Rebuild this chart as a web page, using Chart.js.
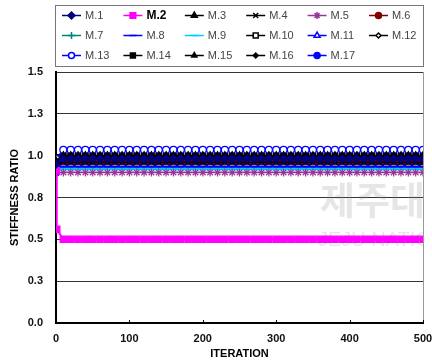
<!DOCTYPE html>
<html><head><meta charset="utf-8">
<script src="https://cdn.jsdelivr.net/npm/chart.js@4"></script>
<style>html,body{margin:0;padding:0;background:#fff}#wrap{width:432px;height:363px}</style>
</head><body><div id="wrap"><canvas id="c" width="432" height="363"></canvas></div>
<script>
const iterations = [0,1,10,20,30,40,50,60,70,80,90,100,110,120,130,140,150,160,170,180,190,200,210,220,230,240,250,260,270,280,290,300,310,320,330,340,350,360,370,380,390,400,410,420,430,440,450,460,470,480,490,500];
const seriesNames = ["M.1","M.2","M.3","M.4","M.5","M.6","M.7","M.8","M.9","M.10","M.11","M.12","M.13","M.14","M.15","M.16","M.17"];
const m1 = [0.95,null,
0.98,0.98,0.98,0.98,0.98,0.98,0.98,0.98,0.98,0.98,
0.98,0.98,0.98,0.98,0.98,0.98,0.98,0.98,0.98,0.98,
0.98,0.98,0.98,0.98,0.98,0.98,0.98,0.98,0.98,0.98,
0.98,0.98,0.98,0.98,0.98,0.98,0.98,0.98,0.98,0.98,
0.98,0.98,0.98,0.98,0.98,0.98,0.98,0.98,0.98,0.98];
const m2 = [0.91,0.56,
0.50,0.50,0.50,0.50,0.50,0.50,0.50,0.50,0.50,0.50,
0.50,0.50,0.50,0.50,0.50,0.50,0.50,0.50,0.50,0.50,
0.50,0.50,0.50,0.50,0.50,0.50,0.50,0.50,0.50,0.50,
0.50,0.50,0.50,0.50,0.50,0.50,0.50,0.50,0.50,0.50,
0.50,0.50,0.50,0.50,0.50,0.50,0.50,0.50,0.50,0.50];
const m3 = [0.97,null,
1.00,1.00,1.00,1.00,1.00,1.00,1.00,1.00,1.00,1.00,
1.00,1.00,1.00,1.00,1.00,1.00,1.00,1.00,1.00,1.00,
1.00,1.00,1.00,1.00,1.00,1.00,1.00,1.00,1.00,1.00,
1.00,1.00,1.00,1.00,1.00,1.00,1.00,1.00,1.00,1.00,
1.00,1.00,1.00,1.00,1.00,1.00,1.00,1.00,1.00,1.00];
const m4 = [0.96,null,
0.96,0.96,0.96,0.96,0.96,0.96,0.96,0.96,0.96,0.96,
0.96,0.96,0.96,0.96,0.96,0.96,0.96,0.96,0.96,0.96,
0.96,0.96,0.96,0.96,0.96,0.96,0.96,0.96,0.96,0.96,
0.96,0.96,0.96,0.96,0.96,0.96,0.96,0.96,0.96,0.96,
0.96,0.96,0.96,0.96,0.96,0.96,0.96,0.96,0.96,0.96];
const m5 = [0.90,null,
0.90,0.90,0.90,0.90,0.90,0.90,0.90,0.90,0.90,0.90,
0.90,0.90,0.90,0.90,0.90,0.90,0.90,0.90,0.90,0.90,
0.90,0.90,0.90,0.90,0.90,0.90,0.90,0.90,0.90,0.90,
0.90,0.90,0.90,0.90,0.90,0.90,0.90,0.90,0.90,0.90,
0.90,0.90,0.90,0.90,0.90,0.90,0.90,0.90,0.90,0.90];
const m6 = [0.96,null,
0.97,0.97,0.97,0.97,0.97,0.97,0.97,0.97,0.97,0.97,
0.97,0.97,0.97,0.97,0.97,0.97,0.97,0.97,0.97,0.97,
0.97,0.97,0.97,0.97,0.97,0.97,0.97,0.97,0.97,0.97,
0.97,0.97,0.97,0.97,0.97,0.97,0.97,0.97,0.97,0.97,
0.97,0.97,0.97,0.97,0.97,0.97,0.97,0.97,0.97,0.97];
const m7 = [0.96,null,
0.965,0.965,0.965,0.965,0.965,0.965,0.965,0.965,0.965,0.965,
0.965,0.965,0.965,0.965,0.965,0.965,0.965,0.965,0.965,0.965,
0.965,0.965,0.965,0.965,0.965,0.965,0.965,0.965,0.965,0.965,
0.965,0.965,0.965,0.965,0.965,0.965,0.965,0.965,0.965,0.965,
0.965,0.965,0.965,0.965,0.965,0.965,0.965,0.965,0.965,0.965];
const m8 = [0.94,null,
0.98,0.98,0.98,0.98,0.98,0.98,0.98,0.98,0.98,0.98,
0.98,0.98,0.98,0.98,0.98,0.98,0.98,0.98,0.98,0.98,
0.98,0.98,0.98,0.98,0.98,0.98,0.98,0.98,0.98,0.98,
0.98,0.98,0.98,0.98,0.98,0.98,0.98,0.98,0.98,0.98,
0.98,0.98,0.98,0.98,0.98,0.98,0.98,0.98,0.98,0.98];
const m9 = [0.91,null,
0.92,0.92,0.92,0.92,0.92,0.92,0.92,0.92,0.92,0.92,
0.92,0.92,0.92,0.92,0.92,0.92,0.92,0.92,0.92,0.92,
0.92,0.92,0.92,0.92,0.92,0.92,0.92,0.92,0.92,0.92,
0.92,0.92,0.92,0.92,0.92,0.92,0.92,0.92,0.92,0.92,
0.92,0.92,0.92,0.92,0.92,0.92,0.92,0.92,0.92,0.92];
const m10 = [0.95,null,
0.965,0.965,0.965,0.965,0.965,0.965,0.965,0.965,0.965,0.965,
0.965,0.965,0.965,0.965,0.965,0.965,0.965,0.965,0.965,0.965,
0.965,0.965,0.965,0.965,0.965,0.965,0.965,0.965,0.965,0.965,
0.965,0.965,0.965,0.965,0.965,0.965,0.965,0.965,0.965,0.965,
0.965,0.965,0.965,0.965,0.965,0.965,0.965,0.965,0.965,0.965];
const m11 = [0.93,null,
0.95,0.95,0.95,0.95,0.95,0.95,0.95,0.95,0.95,0.95,
0.95,0.95,0.95,0.95,0.95,0.95,0.95,0.95,0.95,0.95,
0.95,0.95,0.95,0.95,0.95,0.95,0.95,0.95,0.95,0.95,
0.95,0.95,0.95,0.95,0.95,0.95,0.95,0.95,0.95,0.95,
0.95,0.95,0.95,0.95,0.95,0.95,0.95,0.95,0.95,0.95];
const m12 = [0.95,null,
0.962,0.962,0.962,0.962,0.962,0.962,0.962,0.962,0.962,0.962,
0.962,0.962,0.962,0.962,0.962,0.962,0.962,0.962,0.962,0.962,
0.962,0.962,0.962,0.962,0.962,0.962,0.962,0.962,0.962,0.962,
0.962,0.962,0.962,0.962,0.962,0.962,0.962,0.962,0.962,0.962,
0.962,0.962,0.962,0.962,0.962,0.962,0.962,0.962,0.962,0.962];
const m13 = [0.98,null,
1.035,1.035,1.035,1.035,1.035,1.035,1.035,1.035,1.035,1.035,
1.035,1.035,1.035,1.035,1.035,1.035,1.035,1.035,1.035,1.035,
1.035,1.035,1.035,1.035,1.035,1.035,1.035,1.035,1.035,1.035,
1.035,1.035,1.035,1.035,1.035,1.035,1.035,1.035,1.035,1.035,
1.035,1.035,1.035,1.035,1.035,1.035,1.035,1.035,1.035,1.035];
const m14 = [0.99,null,
1.00,1.00,1.00,1.00,1.00,1.00,1.00,1.00,1.00,1.00,
1.00,1.00,1.00,1.00,1.00,1.00,1.00,1.00,1.00,1.00,
1.00,1.00,1.00,1.00,1.00,1.00,1.00,1.00,1.00,1.00,
1.00,1.00,1.00,1.00,1.00,1.00,1.00,1.00,1.00,1.00,
1.00,1.00,1.00,1.00,1.00,1.00,1.00,1.00,1.00,1.00];
const m15 = [0.97,null,
1.00,1.00,1.00,1.00,1.00,1.00,1.00,1.00,1.00,1.00,
1.00,1.00,1.00,1.00,1.00,1.00,1.00,1.00,1.00,1.00,
1.00,1.00,1.00,1.00,1.00,1.00,1.00,1.00,1.00,1.00,
1.00,1.00,1.00,1.00,1.00,1.00,1.00,1.00,1.00,1.00,
1.00,1.00,1.00,1.00,1.00,1.00,1.00,1.00,1.00,1.00];
const m16 = [0.98,null,
1.00,1.00,1.00,1.00,1.00,1.00,1.00,1.00,1.00,1.00,
1.00,1.00,1.00,1.00,1.00,1.00,1.00,1.00,1.00,1.00,
1.00,1.00,1.00,1.00,1.00,1.00,1.00,1.00,1.00,1.00,
1.00,1.00,1.00,1.00,1.00,1.00,1.00,1.00,1.00,1.00,
1.00,1.00,1.00,1.00,1.00,1.00,1.00,1.00,1.00,1.00];
const m17 = [0.90,null,
0.94,0.94,0.94,0.94,0.94,0.94,0.94,0.94,0.94,0.94,
0.94,0.94,0.94,0.94,0.94,0.94,0.94,0.94,0.94,0.94,
0.94,0.94,0.94,0.94,0.94,0.94,0.94,0.94,0.94,0.94,
0.94,0.94,0.94,0.94,0.94,0.94,0.94,0.94,0.94,0.94,
0.94,0.94,0.94,0.94,0.94,0.94,0.94,0.94,0.94,0.94];
const seriesValues = [m1,m2,m3,m4,m5,m6,m7,m8,m9,m10,m11,m12,m13,m14,m15,m16,m17];
const yTickLabels = ["0.0","0.3","0.5","0.8","1.0","1.3","1.5"];
const xTickLabels = ["0","100","200","300","400","500"];

// styles (kept separate from data)
const styles = [
 {c:'#000080', p:'rectRot', bg:'#000080', r:4},
 {c:'#FF00FF', p:'rect', bg:'#FF00FF', r:4.5},
 {c:'#000000', p:'triangle', bg:'#000000', r:4},
 {c:'#000000', p:'crossRot', bg:'#000000', r:4},
 {c:'#993399', p:'star', bg:'#993399', r:4},
 {c:'#800000', p:'circle', bg:'#800000', r:3.5},
 {c:'#008080', p:'cross', bg:'#008080', r:4},
 {c:'#0000FF', p:'line', bg:'#0000FF', r:4},
 {c:'#00CCFF', p:'line', bg:'#00CCFF', r:4},
 {c:'#000000', p:'rect', bg:'#FFFFFF', r:4},
 {c:'#0000FF', p:'triangle', bg:'#FFFFFF', r:4},
 {c:'#000000', p:'rectRot', bg:'#FFFFFF', r:3},
 {c:'#0000FF', p:'circle', bg:'#FFFFFF', r:3.5},
 {c:'#000000', p:'rect', bg:'#000000', r:4},
 {c:'#000000', p:'triangle', bg:'#000000', r:3.5},
 {c:'#000000', p:'rectRot', bg:'#000000', r:3},
 {c:'#0000FF', p:'circle', bg:'#0000FF', r:3.5}
];
const FONT = 'Liberation Sans, Arial, sans-serif';

const datasets = seriesNames.map((name, i) => ({
  label: name,
  data: iterations.map((x, k) => ({x: x, y: seriesValues[i][k]})),
  borderColor: styles[i].c,
  backgroundColor: styles[i].bg,
  borderWidth: i === 1 ? 2 : 1.5,
  pointStyle: styles[i].p,
  pointRadius: styles[i].r,
  pointBorderColor: styles[i].c,
  pointBackgroundColor: styles[i].bg,
  pointBorderWidth: styles[i].p === 'line' ? 2.5 : 1.2,
  spanGaps: true,
  tension: 0,
  fill: false
}));

const decorPlugin = {
  id: 'decor',
  beforeDatasetsDraw(chart) {
    const {ctx, chartArea: a} = chart;
    ctx.save();
    ctx.beginPath(); ctx.rect(a.left, a.top, a.right - a.left, a.bottom - a.top); ctx.clip();
    ctx.fillStyle = 'rgba(140,140,140,0.22)';
    ctx.font = 'bold 38px "Noto Sans CJK KR", sans-serif';
    ctx.textBaseline = 'alphabetic';
    ctx.fillText('제주대', 320, 214);
    ctx.font = '20px ' + FONT;
    ctx.fillText('JEJU NATIO', 318, 246);
    ctx.restore();
  },
  afterDraw(chart) {
    const {ctx, chartArea: a, scales} = chart;
    ctx.save();
    // right border
    ctx.strokeStyle = '#999'; ctx.lineWidth = 1;
    ctx.beginPath(); ctx.moveTo(a.right + 0.5, a.top); ctx.lineTo(a.right + 0.5, a.bottom); ctx.stroke();
    // x tick marks
    ctx.strokeStyle = '#000'; ctx.lineWidth = 1;
    xTickLabels.forEach((t) => {
      const px = Math.round(scales.x.getPixelForValue(Number(t))) + 0.5;
      ctx.beginPath(); ctx.moveTo(px, a.bottom - 3); ctx.lineTo(px, a.bottom + 1); ctx.stroke();
    });
    // legend box
    ctx.strokeStyle = '#777'; ctx.lineWidth = 1;
    ctx.strokeRect(55.5, 5.5, 368, 61);
    seriesNames.forEach((name, i) => {
      const row = Math.floor(i / 6), col = i % 6;
      const x0 = 62 + col * 61.4, y = 15.5 + row * 20;
      const s = styles[i];
      ctx.strokeStyle = s.c; ctx.lineWidth = 1.5;
      ctx.beginPath(); ctx.moveTo(x0, y); ctx.lineTo(x0 + 19, y); ctx.stroke();
      ctx.fillStyle = s.bg; ctx.strokeStyle = s.c;
      if (Chart.helpers && Chart.helpers.drawPoint) {
        Chart.helpers.drawPoint(ctx, {pointStyle: s.p, radius: s.r - 0.5, rotation: 0, borderWidth: s.p === 'line' ? 2.5 : 1.2}, x0 + 9.5, y);
      }
      ctx.textBaseline = 'middle'; ctx.textAlign = 'left';
      if (i === 1) { ctx.font = 'bold 12px ' + FONT; ctx.fillStyle = '#000'; }
      else { ctx.font = '11px ' + FONT; ctx.fillStyle = '#444'; }
      ctx.fillText(name, x0 + 23, y + 0.5);
    });
    ctx.restore();
  }
};

new Chart(document.getElementById('c'), {
  type: 'line',
  data: {datasets},
  plugins: [decorPlugin],
  options: {
    responsive: false,
    animation: false,
    devicePixelRatio: 1,
    layout: {padding: {top: 72, right: 9, left: 0, bottom: 0}},
    plugins: {legend: {display: false}, tooltip: {enabled: false}},
    scales: {
      x: {
        type: 'linear', min: 0, max: 500,
        afterFit(s) { s.height = 40; s.paddingLeft = 0; s.paddingRight = 0; },
        ticks: {stepSize: 100, padding: 9, color: '#111', font: {family: FONT, size: 11, weight: 'bold'},
          callback: (v, i) => xTickLabels[i]},
        grid: {color: 'transparent', drawTicks: false},
        border: {display: true, color: '#000', width: 2},
        title: {display: true, text: 'ITERATION', color: '#000', font: {family: FONT, size: 11, weight: 'bold'}, padding: {top: 0, bottom: 2}}
      },
      y: {
        type: 'linear', min: 0, max: 1.5,
        afterFit(s) { s.width = 56; s.paddingTop = 0; s.paddingBottom = 0; },
        ticks: {stepSize: 0.25, padding: 13, color: '#111', font: {family: FONT, size: 11, weight: 'bold'},
          callback: (v, i) => yTickLabels[i]},
        grid: {color: '#333', lineWidth: 1, drawTicks: false},
        border: {display: true, color: '#000', width: 2},
        title: {display: true, text: 'STIFFNESS RATIO', color: '#000', font: {family: FONT, size: 11, weight: 'bold'}, padding: {top: 8, bottom: 0}}
      }
    }
  }
});
</script>
</body></html>
